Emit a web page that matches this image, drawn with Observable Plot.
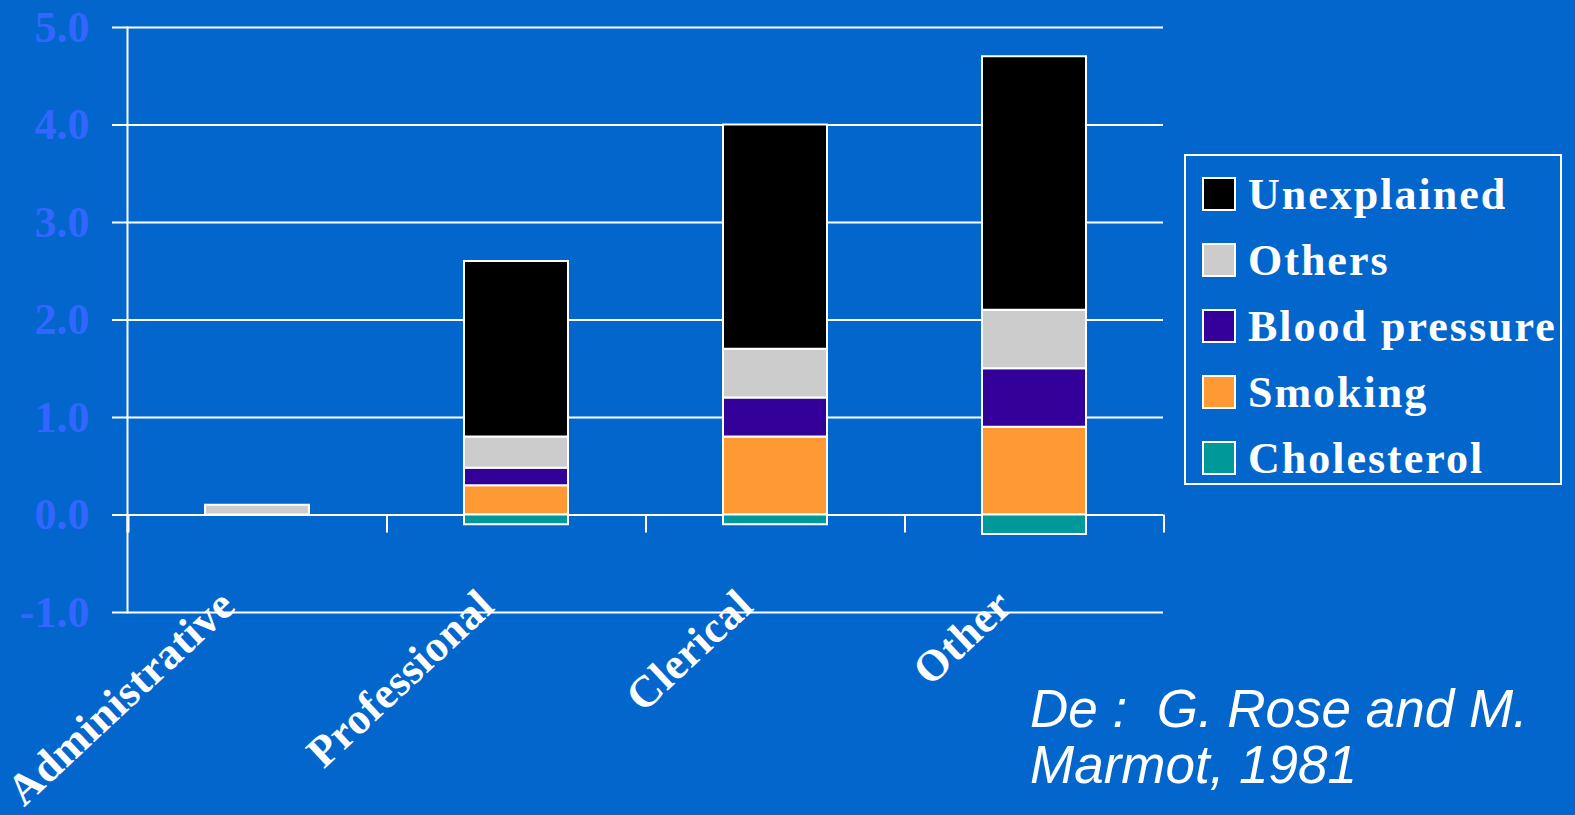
<!DOCTYPE html>
<html><head><meta charset="utf-8">
<script src="https://cdn.jsdelivr.net/npm/d3@7"></script>
<script src="https://cdn.jsdelivr.net/npm/@observablehq/plot@0.6"></script>
<style>
html,body{margin:0;padding:0;background:#0366cc;overflow:hidden}
#wrap{position:relative;width:1575px;height:815px}
#chart{position:absolute;left:0;top:0}
#legend{position:absolute;left:1184px;top:154px;width:378px;height:331px;border:2px solid #fff;box-sizing:border-box;font-family:"Liberation Serif","Times New Roman",serif;font-weight:bold;font-size:44px;color:#fff;letter-spacing:2px}
.row{position:absolute;left:16px;height:34px;display:flex;align-items:center;white-space:nowrap}
.sw{width:34px;height:34px;border:2px solid #fff;box-sizing:border-box;margin-right:12px;flex:none}
#caption{position:absolute;left:1030px;top:681px;font-family:"Liberation Sans",Arial,sans-serif;font-style:italic;font-size:53px;line-height:56px;color:#fff;white-space:pre}
</style>
</head><body>
<div id="wrap"><div id="chart"></div><div id="legend"></div><div id="caption"></div></div>
<script>
const categories = ["Administrative", "Professional", "Clerical", "Other"];
const seriesNames = ["Smoking", "Blood pressure", "Others", "Unexplained", "Cholesterol"];
const seriesColors = ["#ff9933", "#330099", "#cccccc", "#000000", "#009999"];
const legendOrder = ["Unexplained", "Others", "Blood pressure", "Smoking", "Cholesterol"];
// values per category, in category order
const smoking      = [0,   0.3,  0.8, 0.9];
const bloodPressure= [0,   0.18, 0.4, 0.6];
const others       = [0.1, 0.32, 0.5, 0.6];
const unexplained  = [0,   1.8,  2.3, 2.6];
const cholesterol  = [0,  -0.1, -0.1, -0.2];
const yTicks = [-1, 0, 1, 2, 3, 4, 5];
const caption = ["De :  G. Rose and M.", "Marmot, 1981"];

const seriesValues = [smoking, bloodPressure, others, unexplained, cholesterol];
const data = [];
categories.forEach((c, i) => {
  seriesNames.forEach((s, j) => {
    const v = seriesValues[j][i];
    if (v !== 0) data.push({cat: c, series: s, value: v});
  });
});

const W = 1575, H = 815, mL = 127, mR = 412, mT = 27, mB = 203;
const step = (W - mL - mR) / categories.length;

const plot = Plot.plot({
  width: W, height: H,
  marginLeft: mL, marginRight: mR, marginTop: mT, marginBottom: mB,
  style: {background: "transparent", overflow: "visible"},
  x: {domain: categories, paddingInner: 0.6, paddingOuter: 0.3, axis: null},
  y: {domain: [-1, 5], axis: null},
  color: {domain: seriesNames, range: seriesColors},
  marks: [
    Plot.gridY(yTicks, {stroke: "white", strokeOpacity: 1, strokeWidth: 2}),
    Plot.axisY({ticks: yTicks, tickSize: 15, tickPadding: 23, stroke: "white", strokeWidth: 2,
      tickFormat: d => d.toFixed(1), fontSize: 44, fontWeight: "bold",
      fontFamily: "Liberation Serif", fill: "#3366ff", label: null}),
    Plot.frame({anchor: "left", stroke: "white", strokeWidth: 2}),
    Plot.ruleX(categories, {x: d => d, y1: 0, y2: -0.185, dx: step / 2, stroke: "white", strokeWidth: 2}),
    Plot.ruleX(categories.slice(0, 1), {x: d => d, y1: 0, y2: -0.185, dx: -step / 2, stroke: "white", strokeWidth: 3}),
    Plot.barY(data, {x: "cat", y: "value", fill: "series", stroke: "white", strokeWidth: 2}),
    Plot.text(categories, {x: d => d, frameAnchor: "bottom", text: d => d, rotate: -43,
      textAnchor: "end", lineAnchor: "bottom", dx: -20, dy: -4, fontSize: 44, fontWeight: "bold",
      fontFamily: "Liberation Serif", fill: "white", stroke: "none"})
  ]
});
d3.select(plot).selectAll('g[aria-label="text"] text').attr("letter-spacing", "0.6px");
document.getElementById("chart").appendChild(plot);

const legend = document.getElementById("legend");
legendOrder.forEach((s, i) => {
  const row = document.createElement("div");
  row.className = "row";
  row.style.top = (21 + i * 66) + "px";
  const sw = document.createElement("div");
  sw.className = "sw";
  sw.style.background = seriesColors[seriesNames.indexOf(s)];
  row.appendChild(sw);
  const t = document.createElement("span");
  t.textContent = s;
  row.appendChild(t);
  legend.appendChild(row);
});
document.getElementById("caption").textContent = caption.join("\n");
</script>
</body></html>
